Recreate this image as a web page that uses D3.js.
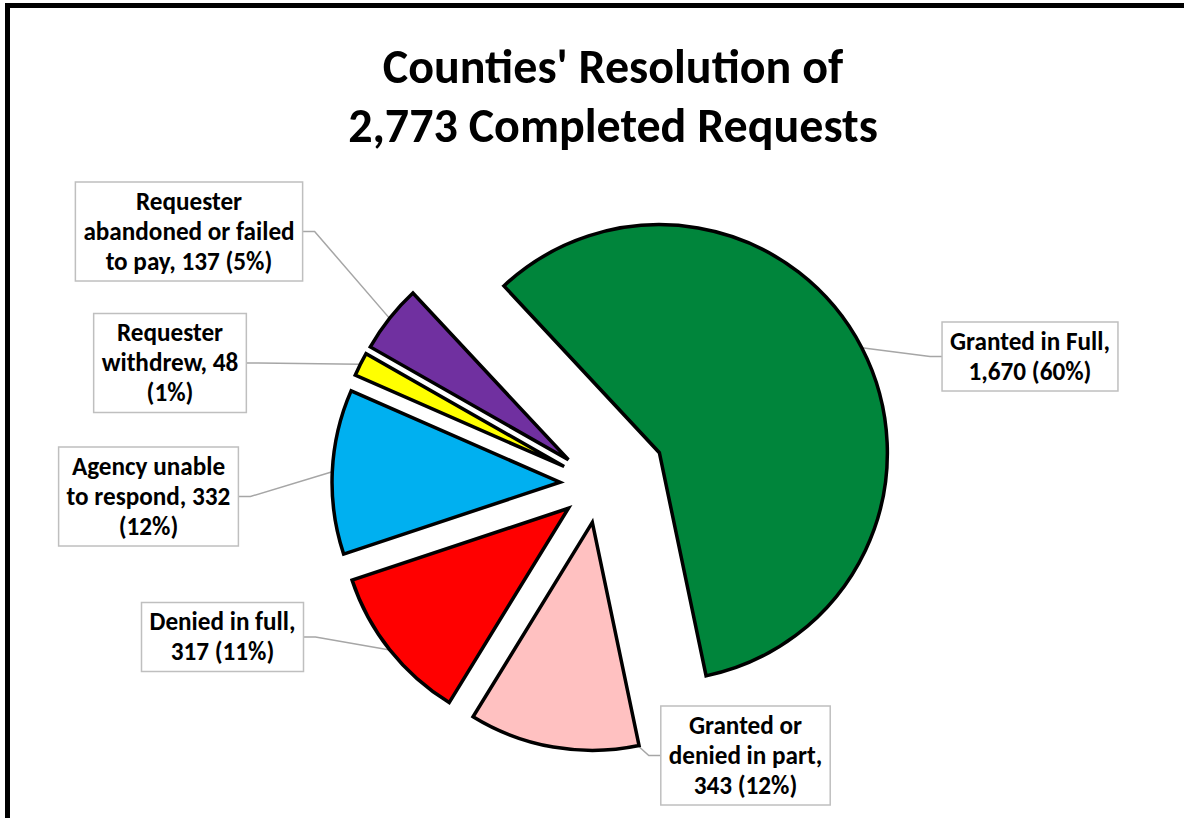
<!DOCTYPE html>
<html><head><meta charset="utf-8">
<script src="https://cdn.jsdelivr.net/npm/d3@7"></script>
<style>
html,body{margin:0;padding:0;background:#fff;overflow:hidden}
svg{display:block}
text{font-family:Carlito,Calibri,Lato,"Open Sans",sans-serif;font-weight:bold;fill:#000}
</style></head>
<body>
<svg id="chart" width="1184" height="818"></svg>
<script>
// ---- data ----
const titleLines = ["Counties' Resolution of", "2,773 Completed Requests"];
const categories = ["Granted in Full", "Granted or denied in part", "Denied in full",
  "Agency unable to respond", "Requester withdrew", "Requester abandoned or failed to pay"];
const values = [1670, 343, 317, 332, 48, 137];
const percents = [60, 12, 11, 12, 1, 5];
// label text split into lines ({v} = value, {p} = percent)
const labelLines = [
  ["Granted in Full,", "{v} ({p}%)"],
  ["Granted or", "denied in part,", "{v} ({p}%)"],
  ["Denied in full,", "{v} ({p}%)"],
  ["Agency unable", "to respond, {v}", "({p}%)"],
  ["Requester", "withdrew, {v}", "({p}%)"],
  ["Requester", "abandoned or failed", "to pay, {v} ({p}%)"]
];

// ---- styles / layout ----
const colors = ["#00853B", "#FFC1C1", "#FF0000", "#00B0F0", "#FFFF00", "#7030A0"];
const explode = [68, 39, 39, 39, 39, 39];
const labelCenters = [[1030, 356.5], [745.5, 755.5], [222.5, 637], [148.5, 496.5], [170, 363], [189, 231.5]];
const labelSide = ["left", "left", "right", "right", "right", "right"];
const labelAnchor = ["mid", "start", "mid", "mid", "mid", "mid"];
const cx = 599, cy = 484, R = 228;
const startDeg = -43;

const svg = d3.select("#chart");
const fmt = d3.format(",");

// frame
svg.append("rect").attr("x", 7.5).attr("y", 5.5).attr("width", 1200).attr("height", 840)
  .attr("fill", "#fff").attr("stroke", "#000").attr("stroke-width", 5);

// font size fitting helper
function fitSize(str, targetW, base) {
  const t = svg.append("text").attr("font-size", base).text(str);
  const w = t.node().getComputedTextLength();
  t.remove();
  return base * targetW / w;
}
const titleSize = fitSize(titleLines[1], 530, 46);
const labelSize = fitSize("Granted in Full,", 160, 22);

// title
const titleBase = [83, 142];
titleLines.forEach((l, i) => {
  svg.append("text").attr("x", 613).attr("y", titleBase[i]).attr("text-anchor", "middle")
    .attr("font-size", titleSize).text(l);
});

// pie
const pie = d3.pie().sort(null).value(d => d)
  .startAngle(startDeg * Math.PI / 180).endAngle(startDeg * Math.PI / 180 + 2 * Math.PI);
const arcs = pie(values);
const arc = d3.arc().innerRadius(0).outerRadius(R);
const unit = a => [Math.sin(a), -Math.cos(a)];

const g = svg.append("g").attr("transform", `translate(${cx},${cy})`);
g.selectAll("path").data(arcs).join("path")
  .attr("transform", (d, i) => {
    const u = unit((d.startAngle + d.endAngle) / 2);
    return `translate(${u[0] * explode[i]},${u[1] * explode[i]})`;
  })
  .attr("d", arc)
  .attr("fill", (d, i) => colors[i])
  .attr("stroke", "#000").attr("stroke-width", 3.5).attr("stroke-linejoin", "miter");

// labels
const lineH = 30, padX = 8;
arcs.forEach((d, i) => {
  const lines = labelLines[i].map(s => s.replace("{v}", fmt(values[i])).replace("{p}", percents[i]));
  const [lx, ly] = labelCenters[i];
  const n = lines.length;
  const lg = svg.append("g");
  const box = lg.append("rect");
  let maxW = 0;
  const texts = lines.map((s, k) => {
    const t = lg.append("text").attr("x", lx).attr("y", ly - n * lineH / 2 + lineH * k + 23)
      .attr("text-anchor", "middle").attr("font-size", labelSize).text(s);
    maxW = Math.max(maxW, t.node().getComputedTextLength());
    return t;
  });
  const bw = maxW + 2 * padX, bh = n * lineH + 9;
  box.attr("x", lx - bw / 2).attr("y", ly - bh / 2).attr("width", bw).attr("height", bh)
    .attr("fill", "#fff").attr("stroke", "#BFBFBF").attr("stroke-width", 1.5);

  // leader line
  const mid = (d.startAngle + d.endAngle) / 2;
  const um = unit(mid);
  const vx = cx + um[0] * explode[i], vy = cy + um[1] * explode[i];
  const aa = labelAnchor[i] === "start" ? d.startAngle + 0.005 : mid;
  const ua = unit(aa);
  const px = vx + ua[0] * R, py = vy + ua[1] * R;
  const bx = labelSide[i] === "left" ? lx - bw / 2 : lx + bw / 2;
  const ex = labelSide[i] === "left" ? bx - 12 : bx + 12;
  svg.insert("path", "g")
    .attr("d", d3.line()([[px, py], [ex, ly], [bx, ly]]))
    .attr("fill", "none").attr("stroke", "#A6A6A6").attr("stroke-width", 1.5);
});
</script>
</body></html>
